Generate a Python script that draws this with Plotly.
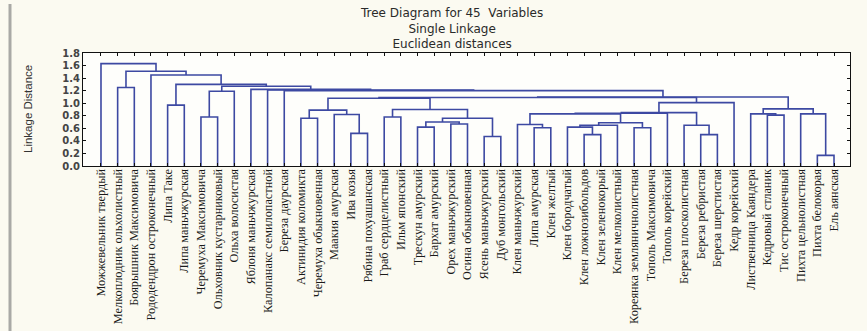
import plotly.graph_objects as go

# Leaf labels in dendrogram order (left to right)
species = [
    "Можжевельник твердый", "Мелкоплодник ольхолистный", "Боярышник Максимовича",
    "Рододендрон остроконечный", "Липа Таке", "Липа маньчжурская",
    "Черемуха Максимовича", "Ольховник кустарниковый", "Ольха волосистая",
    "Яблоня маньчжурская", "Калопанакс семилопастной", "Береза даурская",
    "Актинидия коломикта", "Черемуха обыкновенная", "Маакия амурская",
    "Ива козья", "Рябина похуашанская", "Граб сердцелистный", "Ильм японский",
    "Трескун амурский", "Бархат амурский", "Орех маньчжурский",
    "Осина обыкновенная", "Ясень маньчжурский", "Дуб монгольский",
    "Клен маньчжурский", "Липа амурская", "Клен желтый", "Клен бородчатый",
    "Клен ложнозибольдов", "Клен зеленокорый", "Клен мелколистный",
    "Кореянка земляничнолистная", "Тополь Максимовича", "Тополь корейский",
    "Береза плосколистная", "Береза ребристая", "Береза шерстистая",
    "Кедр корейский", "Лиственница Каяндера", "Кедровый стланик",
    "Тис остроконечный", "Пихта цельнолистная", "Пихта белокорая", "Ель аянская",
]

# Single-linkage merges: node ids < 45 are leaves, merge k creates node 45 + k
merge_a = [43, 23, 29, 36, 15, 26, 32, 19, 28, 35, 25, 21, 53, 57, 52, 59,
           12, 6, 17, 40, 14, 39, 42, 55, 68, 69, 61, 63, 66, 4, 70, 71,
           76, 77, 62, 11, 10, 9, 1, 79, 74, 3, 83, 0]
merge_b = [44, 24, 30, 37, 16, 27, 33, 20, 47, 48, 50, 22, 31, 51, 56, 46,
           13, 7, 18, 41, 49, 64, 45, 58, 34, 54, 65, 60, 67, 5, 38, 72,
           75, 73, 8, 78, 80, 81, 2, 82, 84, 85, 86, 87]
merge_dist = [0.17, 0.47, 0.50, 0.50, 0.52, 0.61, 0.61, 0.62, 0.62, 0.65,
              0.66, 0.67, 0.65, 0.69, 0.70, 0.76, 0.76, 0.78, 0.78, 0.81,
              0.82, 0.83, 0.83, 0.83, 0.84, 0.85, 0.89, 0.90, 0.91, 0.97,
              1.01, 1.08, 1.09, 1.10, 1.19, 1.20, 1.21, 1.22, 1.25, 1.27,
              1.30, 1.45, 1.51, 1.63]

y_ticks = [0.0, 0.2, 0.4, 0.6, 0.8, 1.0, 1.2, 1.4, 1.6, 1.8]

n = len(species)
pos = {i: i + 1 for i in range(n)}
hgt = {i: 0.0 for i in range(n)}

xs, ys = [], []
for k, (a, b, d) in enumerate(zip(merge_a, merge_b, merge_dist)):
    xa, xb = pos[a], pos[b]
    xs += [xa, xa, xb, xb, None]
    ys += [hgt[a], d, d, hgt[b], None]
    pos[n + k] = (xa + xb) / 2
    hgt[n + k] = d

line_color = "#3d49a2"
fig = go.Figure()
fig.add_trace(go.Scatter(x=xs, y=ys, mode="lines",
                         line=dict(color=line_color, width=1.6),
                         hoverinfo="skip", showlegend=False))

W, H = 867, 331
ml, mr, mt, mb = 83, 17, 53, 165

def px_x(p):
    return (p - ml) / (W - ml - mr)

def px_y(p):
    return (H - mb - p) / (H - mt - mb)

fig.update_layout(
    width=W, height=H,
    margin=dict(l=ml, r=mr, t=mt, b=mb, autoexpand=False),
    paper_bgcolor="#fbfaf1",
    plot_bgcolor="#fefefb",
    showlegend=False,
    xaxis=dict(
        range=[-0.08, 45.96],
        automargin=False,
        tickmode="array",
        tickvals=list(range(1, n + 1)),
        ticktext=species,
        tickangle=-90,
        ticklabelstandoff=-3,
        tickfont=dict(family="Liberation Serif", size=12.3, color="#1a1a1a"),
        ticks="inside", ticklen=3, tickcolor="#111",
        showline=True, linecolor="#111", linewidth=1.2, mirror="ticks",
        showgrid=False, zeroline=False,
    ),
    yaxis=dict(
        range=[0, 1.8],
        automargin=False,
        tickmode="array",
        tickvals=y_ticks,
        tickformat=".1f",
        tickfont=dict(family="DejaVu Sans", size=10, color="#444", weight="bold"),
        ticks="inside", ticklen=3, tickcolor="#111",
        showline=True, linecolor="#111", linewidth=1.2, mirror="ticks",
        showgrid=False, zeroline=False,
    ),
)

fig.add_annotation(text="Tree Diagram for 45  Variables<br>Single Linkage<br>Euclidean distances",
                   xref="paper", yref="paper",
                   x=px_x(451), y=px_y(28), xanchor="center", yanchor="middle",
                   showarrow=False, align="center",
                   font=dict(family="DejaVu Sans", size=12, color="#2a2a2a"))

fig.add_annotation(text="Linkage Distance", xref="paper", yref="paper",
                   x=px_x(28), y=px_y(109), xanchor="center", yanchor="middle",
                   textangle=-90, showarrow=False,
                   font=dict(family="Liberation Sans Narrow, Liberation Sans", size=11.5, color="#333"))

# frame edge on the left side of the page
fig.add_shape(type="line", xref="paper", yref="paper",
              x0=px_x(10), x1=px_x(10), y0=px_y(4), y1=px_y(331),
              line=dict(color="#a9a9a6", width=3))

fig.write_html("out.html")
